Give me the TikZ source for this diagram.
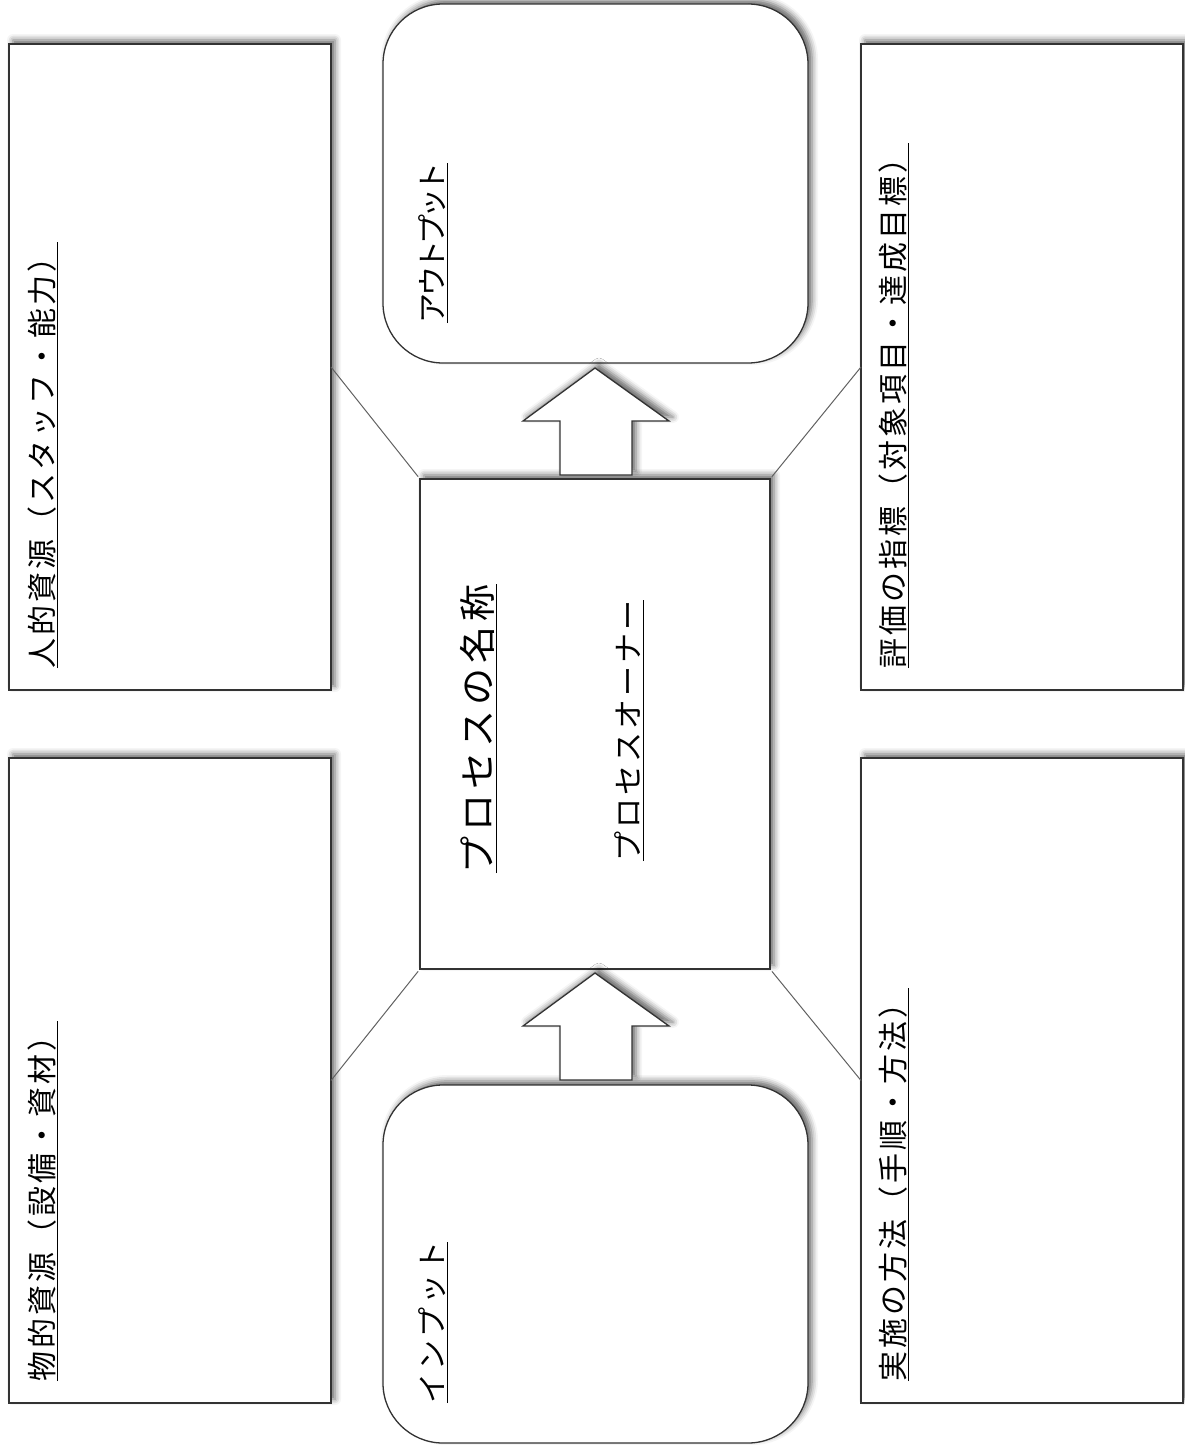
\documentclass[tikz,border=0pt]{standalone}
\usepackage{fontspec}
\newfontfamily\jp{Noto Sans CJK JP}
\usetikzlibrary{shadows.blur}
\newcommand\ulbox[1]{\leavevmode\setbox0\hbox{#1}\rlap{\rule[-0.17em]{\wd0}{1.2pt}}\box0}
\tikzset{
  box/.style={draw=black!80, line width=1.3pt, fill=white,
    blur shadow={shadow xshift=4pt, shadow yshift=4pt, shadow blur radius=6pt, shadow opacity=60}},
  rbox/.style={box, rounded corners=60pt},
  plain/.style={inner sep=0pt, outer sep=0pt, anchor=north west},
  lbl/.style={rotate=90, anchor=base west, inner sep=0pt, outer sep=0pt},
  fs33/.style={font=\jp\fontsize{30}{38}\selectfont\addfontfeature{LetterSpace=10}},
  fs26/.style={font=\jp\fontsize{30}{38}\selectfont\addfontfeature{LetterSpace=-13}},
  fs42/.style={font=\jp\fontsize{37}{46}\selectfont\addfontfeature{LetterSpace=13.5}},
  link/.style={draw=black!62, line width=1pt, shorten >=3pt},
}
\begin{document}
\begin{tikzpicture}[x=1pt,y=-1pt]
\useasboundingbox (0,0) rectangle (1184,1445);
% boxes
\node[box, plain, minimum width=322pt, minimum height=646pt] (tl) at (9,44) {};
\node[box, plain, minimum width=322pt, minimum height=645pt] (bl) at (9,758) {};
\node[box, plain, minimum width=322pt, minimum height=646pt] (tr) at (861,44) {};
\node[box, plain, minimum width=322pt, minimum height=645pt] (br) at (861,758) {};
\node[rbox, plain, minimum width=425pt, minimum height=359pt] (out) at (383,4) {};
\node[rbox, plain, minimum width=425pt, minimum height=358pt] (in) at (383,1085) {};
\node[box, plain, minimum width=350pt, minimum height=490pt] (ctr) at (420,479) {};
% block arrows
\draw[box] (595,368) -- (669,421) -- (632,421) -- (632,475) -- (560,475) -- (560,421) -- (523,421) -- cycle;
\draw[box] (595,973) -- (669,1026) -- (632,1026) -- (632,1080) -- (560,1080) -- (560,1026) -- (523,1026) -- cycle;
% connectors
\draw[link] (tl.east) -- (ctr.north west);
\draw[link] (bl.east) -- (ctr.south west);
\draw[link] (tr.west) -- (ctr.north east);
\draw[link] (br.west) -- (ctr.south east);
% labels
\node[lbl, fs33] (t1) at (53,668) {\ulbox{人的資源（スタッフ・能力）}};
\node[lbl, fs33] (t2) at (53,1381) {\ulbox{物的資源（設備・資材）}};
\node[lbl, fs33] (t3) at (904,668) {\ulbox{評価の指標（対象項目・達成目標）}};
\node[lbl, fs33] (t4) at (904,1381) {\ulbox{実施の方法（手順・方法）}};
\node[lbl, fs26] (t5) at (443,323) {\ulbox{アウトプット}};
\node[lbl, fs33] (t6) at (443,1403) {\ulbox{インプット}};
\node[lbl, fs42] (t7) at (491,873) {\ulbox{プロセスの名称}};
\node[lbl, fs33] (t8) at (639,861) {\ulbox{プロセスオーナー}};
\end{tikzpicture}
\end{document}
